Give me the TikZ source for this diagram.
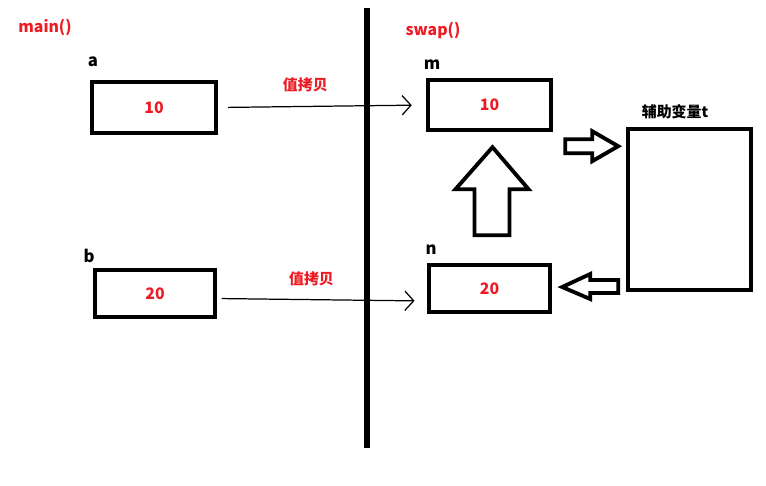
\documentclass[tikz,border=0pt]{standalone}
\usepackage{fontspec}
\newfontfamily\cjk{Noto Sans CJK SC}
\usepackage{xcolor}
\definecolor{paintred}{RGB}{237,28,36}
\usepackage{tikz}
\usetikzlibrary{arrows.meta,positioning,calc}

\begin{document}
\begin{tikzpicture}[x=0.02cm, y=-0.02cm,
    varbox/.style={draw, line width=2.5pt, text=paintred, font=\cjk\bfseries\fontsize{9}{11}\selectfont, inner sep=0pt},
    varname/.style={font=\cjk\bfseries\fontsize{9.5}{11}\selectfont, inner sep=0pt},
    frame/.style={text=paintred, font=\cjk\bfseries\fontsize{9}{11}\selectfont, inner sep=0pt},
    copyline/.style={line width=0.7pt, -{Straight Barb[length=5pt, width=11pt]}},
    copylabel/.style={text=paintred, font=\cjk\bfseries\fontsize{8.5}{10}\selectfont, inner sep=0pt},
    blockarr/.style={line width=2.2pt, line join=miter, fill=white}]
    \useasboundingbox (0,0) rectangle (766,485);

    % Stack frames
    \node[frame] (fmain) at (45,27) {main()};
    \node[frame] (fswap) at (433,30) {swap()};
    \draw[line width=3pt] (367,8) -- (367,448);

    % Variables of main()
    \node[varbox, minimum width=2.48cm, minimum height=1.02cm] (a) at (154,107.5) {10};
    \node[varbox, minimum width=2.40cm, minimum height=0.94cm] (b) at (155,293.5) {20};
    \node[varname] (la) at (93,62) {a};
    \node[varname] (lb) at (89,256) {b};

    % Parameters of swap()
    \node[varbox, minimum width=2.46cm, minimum height=1.00cm] (m) at (489.5,105) {10};
    \node[varbox, minimum width=2.42cm, minimum height=0.94cm] (n) at (489.5,288.5) {20};
    \node[varname] (lm) at (432,65) {m};
    \node[varname] (ln) at (431,250) {n};

    % Temporary variable
    \node[varbox, minimum width=2.46cm, minimum height=3.22cm] (t) at (689.5,209.5) {};
    \node[varname, font=\cjk\bfseries\fontsize{8.5}{10}\selectfont] (lt) at (675,112) {辅助变量t};

    % Pass by value
    \draw[copyline, shorten <=5.5pt, shorten >=8pt] (a.east) -- node[pos=0.42, above=0.28cm, copylabel] {值拷贝} (m.west);
    \draw[copyline, shorten <=2.5pt, shorten >=7pt] ([yshift=-0.1cm]b.east) -- node[pos=0.45, above=0.26cm, copylabel] {值拷贝} ([yshift=-0.25cm]n.west);

    % Swap steps
    \draw[blockarr] (m.south east) ++(12,7) -- ++(27,0) -- ++(0,-8) -- ++(26,15) -- ++(-26,15) -- ++(0,-8) -- ++(-27,0) -- cycle;
    \draw[blockarr] (m.south) ++(3,15) -- ++(36,42) -- ++(-19,0) -- ++(0,46) -- ++(-35,0) -- ++(0,-46) -- ++(-19,0) -- cycle;
    \draw[blockarr] (n.east) ++(10,-1.5) -- ++(28,-13) -- ++(0,6) -- ++(28,0) -- ++(0,13) -- ++(-28,0) -- ++(0,6) -- cycle;
\end{tikzpicture}
\end{document}
